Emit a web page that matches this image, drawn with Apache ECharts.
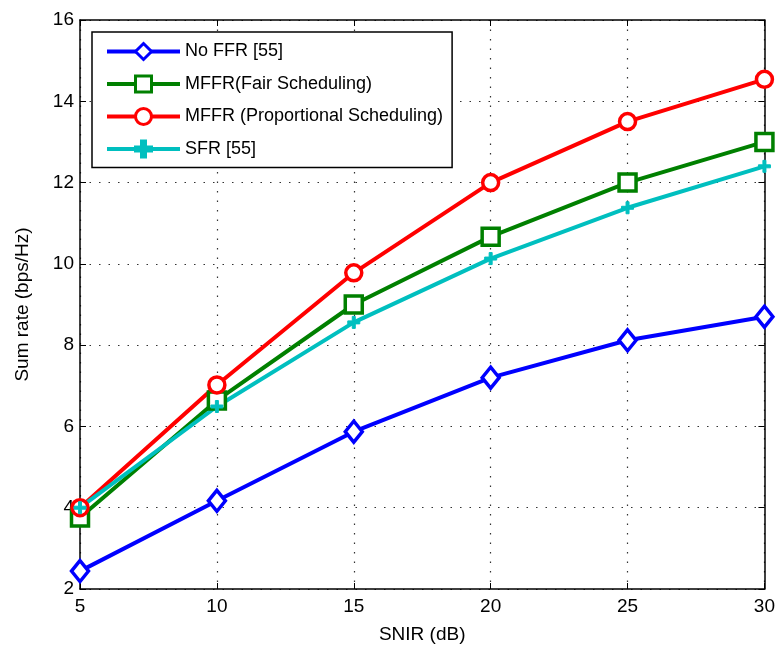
<!DOCTYPE html>
<html>
<head>
<meta charset="utf-8">
<script src="https://cdn.jsdelivr.net/npm/echarts@6/dist/echarts.min.js"></script>
<style>
  html, body { margin: 0; padding: 0; background: #fff; }
  #chart { width: 778px; height: 649px; }
</style>
</head>
<body>
<div id="chart"></div>
<script>
// SNIR values (dB) on the x axis
const snir = [5, 10, 15, 20, 25, 30];

// Sum rate (bps/Hz) for each scheme
const noFFR = [2.44, 4.17, 5.87, 7.2, 8.12, 8.7];
const mffrFair = [3.76, 6.64, 9.0, 10.67, 12.0, 13.0];
const mffrProp = [4.0, 7.02, 9.78, 12.0, 13.5, 14.54];
const sfr = [4.0, 6.49, 8.56, 10.13, 11.38, 12.4];

const seriesNames = [
  'No FFR [55]',
  'MFFR(Fair Scheduling)',
  'MFFR (Proportional Scheduling)',
  'SFR [55]'
];

const FONT = '"Liberation Sans", Arial, sans-serif';
const plusPath = 'path://M-1,-4 L1,-4 L1,-1 L4,-1 L4,1 L1,1 L1,4 L-1,4 L-1,1 L-4,1 L-4,-1 L-1,-1 Z';

function pairs(ys) { return snir.map((x, i) => [x, ys[i]]); }

function lineSeries(name, ys, color, symbol, size) {
  return {
    name: name,
    type: 'line',
    data: pairs(ys),
    xAxisIndex: 0,
    yAxisIndex: 0,
    symbol: symbol,
    symbolSize: size,
    showAllSymbol: true,
    lineStyle: { color: color, width: 4 },
    itemStyle: symbol === plusPath
      ? { color: color, borderColor: color, borderWidth: 1 }
      : { color: '#ffffff', borderColor: color, borderWidth: 3.5 },
    emphasis: { disabled: true },
    animation: false,
    z: 3
  };
}

const chart = echarts.init(document.getElementById('chart'), null, { renderer: 'canvas' });

const axisText = { color: '#000', fontFamily: FONT, fontSize: 19 };

chart.setOption({
  backgroundColor: '#ffffff',
  animation: false,
  grid: { left: 80, right: 11, top: 20, bottom: 60, containLabel: false },
  legend: {
    show: true,
    left: 92,
    top: 32,
    orient: 'vertical',
    itemWidth: 73,
    itemHeight: 20,
    itemGap: 13.5,
    padding: [10, 9, 9, 13],
    backgroundColor: '#ffffff',
    borderColor: '#000000',
    borderWidth: 1.5,
    borderRadius: 0,
    lineStyle: { width: 4 },
    itemStyle: { borderWidth: 3 },
    textStyle: { color: '#000', fontFamily: FONT, fontSize: 18 },
    data: seriesNames
  },
  xAxis: [
    {
      type: 'value',
      min: 5, max: 30, interval: 5,
      name: 'SNIR (dB)',
      nameLocation: 'middle',
      nameGap: 36,
      nameTextStyle: axisText,
      axisLine: { show: true, onZero: false, lineStyle: { color: '#000', width: 1.5 } },
      axisTick: { show: true, inside: true, length: 6, lineStyle: { color: '#000' } },
      axisLabel: Object.assign({ margin: 8 }, axisText),
      splitLine: { show: true, lineStyle: { color: '#333', type: [1.5, 8], width: 1.2 } }
    },
    {
      type: 'value', position: 'top',
      min: 5, max: 30, interval: 5,
      axisLine: { show: true, onZero: false, lineStyle: { color: '#000', width: 1.5 } },
      axisTick: { show: true, inside: true, length: 6, lineStyle: { color: '#000' } },
      axisLabel: { show: false },
      splitLine: { show: false }
    }
  ],
  yAxis: [
    {
      type: 'value',
      min: 2, max: 16, interval: 2,
      name: 'Sum rate (bps/Hz)',
      nameLocation: 'middle',
      nameGap: 48,
      nameTextStyle: axisText,
      axisLine: { show: true, onZero: false, lineStyle: { color: '#000', width: 1.5 } },
      axisTick: { show: true, inside: true, length: 6, lineStyle: { color: '#000' } },
      axisLabel: Object.assign({ margin: 6 }, axisText),
      splitLine: { show: true, lineStyle: { color: '#333', type: [1.5, 8], width: 1.2 } }
    },
    {
      type: 'value', position: 'right',
      min: 2, max: 16, interval: 2,
      axisLine: { show: true, onZero: false, lineStyle: { color: '#000', width: 1.5 } },
      axisTick: { show: true, inside: true, length: 6, lineStyle: { color: '#000' } },
      axisLabel: { show: false },
      splitLine: { show: false }
    }
  ],
  series: [
    lineSeries(seriesNames[0], noFFR, '#0000ff', 'diamond', [17, 21]),
    lineSeries(seriesNames[1], mffrFair, '#008000', 'rect', 17),
    lineSeries(seriesNames[2], mffrProp, '#ff0000', 'circle', 16),
    lineSeries(seriesNames[3], sfr, '#00bfbf', plusPath, 12)
  ]
});
</script>
</body>
</html>
